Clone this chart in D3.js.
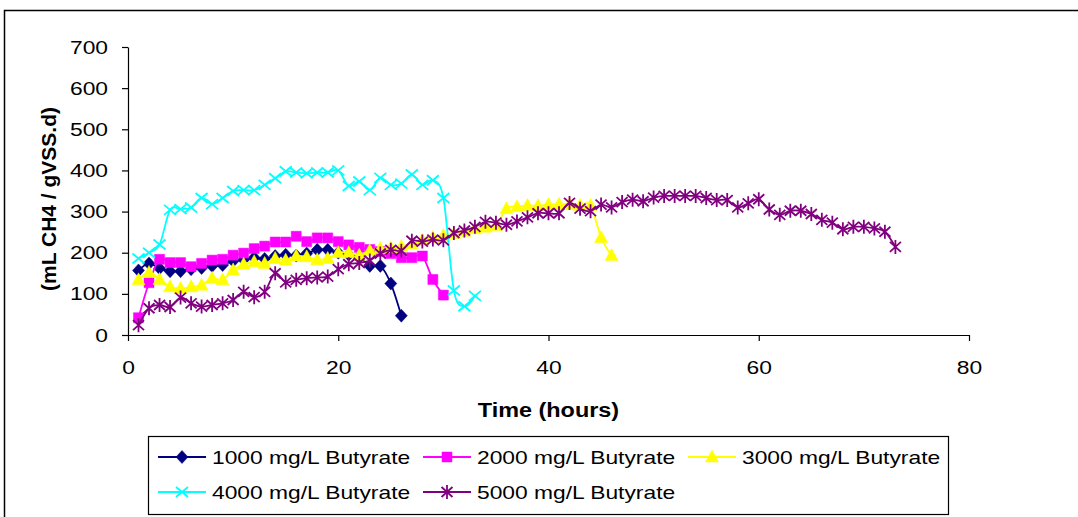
<!DOCTYPE html>
<html>
<head>
<meta charset="utf-8">
<script src="https://cdn.jsdelivr.net/npm/d3@7"></script>
<style>
  body { margin: 0; background: #fff; }
  svg { font-family: 'Liberation Sans', Arial, sans-serif; }
  .axis path, .axis line { stroke: #000; stroke-width: 1.2; }
  .axis text { font-size: 19px; fill: #000; }
</style>
</head>
<body>
<div class="chart"></div>
<script>
var margin = {top: 47, right: 109, bottom: 182, left: 128};
var width = 1078 - margin.left - margin.right;
var height = 517 - margin.top - margin.bottom;

var xTicks = [0, 20, 40, 60, 80];
var yTicks = [0, 100, 200, 300, 400, 500, 600, 700];

var seriesNames = [
  '1000 mg/L Butyrate',
  '2000 mg/L Butyrate',
  '3000 mg/L Butyrate',
  '4000 mg/L Butyrate',
  '5000 mg/L Butyrate'
];

// values start at hour 1, one reading per hour
var b1000 = [157, 174, 162, 155, 155, 160, 163, 168, 170, 180, 183, 188, 185, 192, 195,
  193, 198, 207, 207, 200, 195, 190, 168, 168, 125, 47];
var b2000 = [42, 127, 184, 176, 176, 166, 174, 182, 184, 194, 199, 210, 216, 226, 226,
  240, 227, 236, 236, 227, 219, 213, 208, 203, 198, 188, 188, 192, 135, 97];
var b3000 = [134, 152, 135, 117, 113, 117, 121, 138, 134, 158, 172, 178, 174, 186, 182,
  192, 190, 183, 186, 200, 200, 194, 205, 210, 212, 215, 222, 230, 237, 242,
  246, 252, 258, 262, 266, 307, 312, 315, 314, 317, 318, 318, 315, 315, 237, 193];
var b4000 = [186, 200, 220, 304, 306, 310, 333, 318, 333, 350, 352, 352, 365, 381, 398,
  395, 393, 395, 395, 400, 362, 373, 352, 382, 365, 368, 390, 365, 376, 333,
  108, 70, 95];
var b5000 = [24, 65, 73, 68, 91, 77, 69, 73, 77, 85, 105, 92, 105, 150, 128,
  134, 138, 140, 142, 160, 172, 175, 181, 198, 207, 205, 229, 227, 232, 230,
  248, 254, 263, 275, 273, 268, 276, 286, 296, 296, 296, 321, 307, 301, 317,
  310, 323, 329, 325, 334, 338, 338, 338, 338, 333, 328, 328, 310, 320, 330,
  305, 292, 302, 302, 294, 280, 273, 257, 263, 263, 259, 251, 214];

var colors = ['#000080', '#ff00ff', '#ffff00', '#00ffff', '#800080'];
var markers = ['diamond', 'square', 'triangle', 'cross', 'star'];

var series = [b1000, b2000, b3000, b4000, b5000].map(function(vals, i) {
  return {
    name: seriesNames[i],
    color: colors[i],
    marker: markers[i],
    values: vals.map((v, j) => ({t: j + 1, v: v}))
  };
});

function markerPath(type) {
  if (type === 'diamond') return 'M0,-6.5L6,0L0,6.5L-6,0Z';
  if (type === 'square') return 'M-5,-5H5V5H-5Z';
  if (type === 'triangle') return 'M0,-7L6.5,5H-6.5Z';
  if (type === 'cross') return 'M-6,-5L6,5M-6,5L6,-5';
  return 'M-5.5,-5L5.5,5M-5.5,5L5.5,-5M0,-7V7';
}

function drawMarker(sel, d) {
  var filled = d.marker === 'diamond' || d.marker === 'square' || d.marker === 'triangle';
  sel.attr('d', markerPath(d.marker))
      .style('fill', filled ? d.color : 'none')
      .style('stroke', d.color)
      .style('stroke-width', filled ? 0.5 : 1.8);
}

// the original picture is a bit wider than its fonts, so widen text
function widen(sel, k) {
  sel.each(function() {
    var w = this.getComputedTextLength();
    d3.select(this)
        .attr('textLength', w * k)
        .attr('lengthAdjust', 'spacingAndGlyphs');
  });
}

var x = d3.scaleLinear().domain([0, 80]).range([0, width]);
var y = d3.scaleLinear().domain([0, 700]).range([height, 0]);

var root = d3.select('div.chart').append('svg')
    .attr('width', 1078)
    .attr('height', 517);

// outer chart frame
root.append('path')
    .attr('d', 'M4.5,530V10.5H1080')
    .style('fill', 'none')
    .style('stroke', '#000')
    .style('stroke-width', 1.5);

var svg = root.append('g')
    .attr('transform', 'translate(' + margin.left + ',' + margin.top + ')');

svg.append('g')
    .attr('class', 'x axis')
    .attr('transform', 'translate(0,' + height + ')')
    .call(d3.axisBottom(x)
          .tickValues(xTicks)
          .tickSize(6)
          .tickSizeOuter(0)
          .tickPadding(20));

svg.append('g')
    .attr('class', 'y axis')
    .call(d3.axisLeft(y)
          .tickValues(yTicks)
          .tickSize(6)
          .tickSizeOuter(0)
          .tickPadding(14));

widen(svg.selectAll('.axis text'), 1.2);

svg.append('text')
    .attr('class', 'wide')
    .attr('text-anchor', 'middle')
    .attr('x', width / 2)
    .attr('y', height + 82)
    .attr('font-weight', 'bold')
    .attr('font-size', 20)
    .text('Time (hours)');

svg.append('text')
    .attr('text-anchor', 'middle')
    .attr('transform', 'rotate(-90)')
    .attr('x', -height / 2 - 8)
    .attr('y', -72)
    .attr('font-weight', 'bold')
    .attr('font-size', 21)
    .text('(mL CH4 / gVSS.d)');

widen(svg.selectAll('text.wide'), 1.17);

var line = d3.line()
    .x(d => x(d.t))
    .y(d => y(d.v))
    .curve(d3.curveCatmullRom.alpha(0));

var groups = svg.selectAll('.series')
  .data(series).enter().append('g')
    .attr('class', 'series');

groups.append('path')
    .attr('d', d => line(d.values))
    .style('fill', 'none')
    .style('stroke', d => d.color)
    .style('stroke-width', 1.8);

groups.each(function(s) {
  d3.select(this).selectAll('.pt')
    .data(s.values).enter().append('path')
      .attr('class', 'pt')
      .attr('transform', d => 'translate(' + x(d.t) + ',' + y(d.v) + ')')
      .each(function() { drawMarker(d3.select(this), s); });
});

// legend
var legend = root.append('g')
    .attr('transform', 'translate(148,436)');

legend.append('rect')
    .attr('x', 0.5)
    .attr('y', 0.5)
    .attr('width', 800)
    .attr('height', 78)
    .style('fill', '#fff')
    .style('stroke', '#000')
    .style('stroke-width', 1.2);

var legendPos = [[10, 21], [275, 21], [540, 21], [10, 56], [275, 56]];

var items = legend.selectAll('.item')
  .data(series).enter().append('g')
    .attr('class', 'item')
    .attr('transform', (d, i) => 'translate(' + legendPos[i][0] + ',' + legendPos[i][1] + ')');

items.append('line')
    .attr('x1', 0)
    .attr('x2', 48)
    .style('stroke', d => d.color)
    .style('stroke-width', 1.8);

items.append('path')
    .attr('transform', 'translate(24,0)')
    .each(function(d) { drawMarker(d3.select(this), d); });

items.append('text')
    .attr('x', 54)
    .attr('dy', '0.35em')
    .attr('font-size', 19)
    .text(d => d.name)
    .call(widen, 1.2);
</script>
</body>
</html>
